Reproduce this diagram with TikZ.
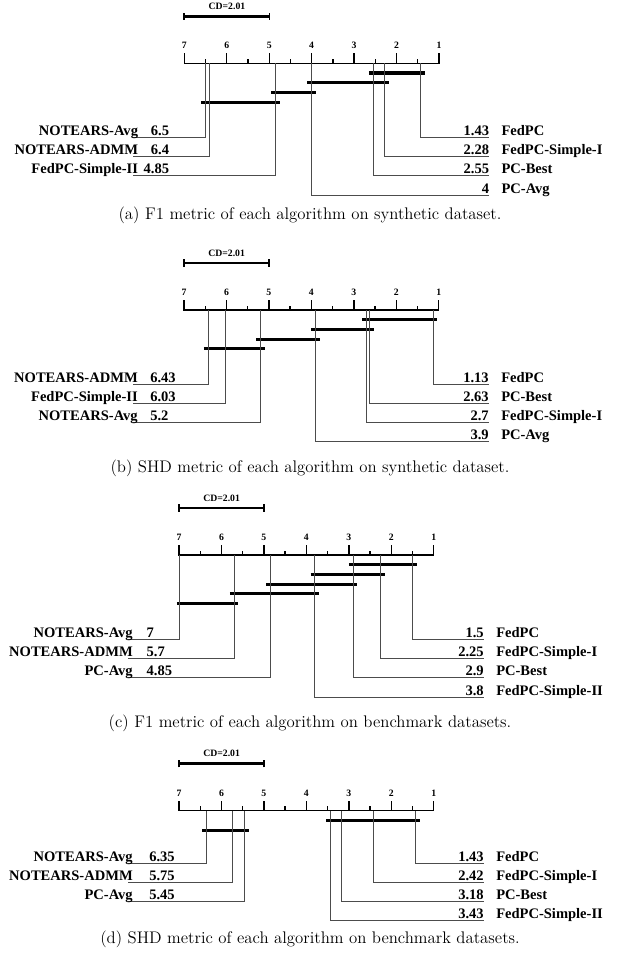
\documentclass[tikz,border=0pt]{standalone}
\usepackage{fontspec}
\newfontfamily\labfont{Liberation Serif}
\usetikzlibrary{calc}

% one unit = one pixel of the final figure, y grows downwards
\tikzset{
  axisline/.style={line width=0.95pt, line cap=rect},
  majortick/.style={line width=1.05pt},
  minortick/.style={line width=0.95pt},
  cdbar/.style={line width=1.9pt},
  cdend/.style={line width=1.3pt},
  cliquebar/.style={line width=2.3pt},
  drop/.style={line width=0.6pt, draw=black!70},
  ticklabel/.style={inner sep=0pt, font=\labfont\bfseries\fontsize{7.3}{8}\selectfont},
  cdlabel/.style={inner sep=0pt, font=\labfont\bfseries\fontsize{7.3}{8}\selectfont},
  lname/.style={inner sep=0pt, font=\labfont\bfseries\fontsize{10.9}{12}\selectfont},
  lval/.style={inner sep=0pt, font=\labfont\bfseries\fontsize{10.9}{12}\selectfont},
  capt/.style={inner sep=0pt, anchor=base, font=\fontsize{12.6}{14}\selectfont},
}

\def\uu{42.45}

% rank axis, ticks and critical-difference bar of one panel
\newcommand\cdframe[1]{%
  \coordinate (#1-a7) at (\xs,\ay);
  \coordinate (#1-a1) at ({\xs+6*\uu},\ay);
  \draw[axisline] (#1-a7) -- (#1-a1);
  \foreach \r in {1,...,7} {
    \draw[majortick] ({\xs+(7-\r)*\uu},\ay) -- ++(0,-10);
    \node[ticklabel] (#1-t\r) at ({\xs+(7-\r)*\uu},{\ay-17.8}) {\r};
  }
  \foreach \r in {1.5,2.5,...,6.5}
    \draw[minortick] ({\xs+(7-\r)*\uu},\ay) -- ++(0,-4.5);
  \coordinate (#1-cd0) at (\xs,{\ay-47});
  \coordinate (#1-cd1) at ({\xs+2.01*\uu},{\ay-47});
  \draw[cdbar] (#1-cd0) -- (#1-cd1);
  \draw[cdend] ($(#1-cd0)+(0,3.6)$) -- ($(#1-cd0)+(0,-3.6)$);
  \draw[cdend] ($(#1-cd1)+(0,3.6)$) -- ($(#1-cd1)+(0,-3.6)$);
  \node[cdlabel] (#1-cd) at ({\xs+1.005*\uu},{\ay-57}) {CD=2.01};
}

% clique bar: #1 name, #2 row, #3 from rank, #4 to rank
\newcommand\clique[4]{%
  \coordinate (#1-s) at ({\xs+(7-#3)*\uu},{\ay+9.7*#2});
  \coordinate (#1-e) at ({\xs+(7-#4)*\uu},{\ay+9.7*#2});
  \draw[cliquebar] (#1-s) -- (#1-e);
}

% method on the left: #1 name, #2 rank, #3 line y, #4 label, #5 value
\newcommand\lentry[5]{%
  \coordinate (#1-r) at ({\xs+(7-#2)*\uu},\ay);
  \coordinate (#1-e) at ({\xs-51},#3);
  \draw[drop] (#1-r) |- (#1-e);
  \node[lname, anchor=base east] (#1-n) at ({\xs-46},{#3-2}) {#4};
  \node[lval, anchor=\valanchor] (#1-v) at ({\xs-51+\valoff},{#3-2}) {#5};
}

% method on the right: #1 name, #2 rank, #3 line y, #4 label, #5 value
\newcommand\rentry[5]{%
  \coordinate (#1-r) at ({\xs+(7-#2)*\uu},\ay);
  \coordinate (#1-e) at ({\xs+305},#3);
  \draw[drop] (#1-r) |- (#1-e);
  \node[lval, anchor=base east] (#1-v) at ({\xs+305},{#3-1.8}) {#5};
  \node[lname, anchor=base west] (#1-n) at ({\xs+317},{#3-1.8}) {#4};
}

\begin{document}
\begin{tikzpicture}[x=0.75pt, y=-0.75pt]
\useasboundingbox (0,0) rectangle (621,965);

%% (a) F1, synthetic
\def\xs{184.3}\def\ay{63.3}\def\valanchor{base east}\def\valoff{36}
\cdframe{pa}
\clique{pa-c1}{1}{2.65}{1.33}
\clique{pa-c2}{2}{4.1}{2.18}
\clique{pa-c3}{3}{4.95}{3.9}
\clique{pa-c4}{4}{6.6}{4.75}
\lentry{pa-l1}{6.5}{137.7}{NOTEARS-Avg}{6.5}
\lentry{pa-l2}{6.4}{156.7}{NOTEARS-ADMM}{6.4}
\lentry{pa-l3}{4.85}{175.7}{FedPC-Simple-II}{4.85}
\rentry{pa-r1}{1.43}{137.7}{FedPC}{1.43}
\rentry{pa-r2}{2.28}{156.7}{FedPC-Simple-I}{2.28}
\rentry{pa-r3}{2.55}{175.7}{PC-Best}{2.55}
\rentry{pa-r4}{4}{195}{PC-Avg}{4}
\node[capt] (capa) at (310,219.3) {(a) F1 metric of each algorithm on synthetic dataset.};

%% (b) SHD, synthetic
\def\xs{184}\def\ay{310}\def\valanchor{base west}\def\valoff{17}
\cdframe{pb}
\clique{pb-c1}{1}{2.8}{1.03}
\clique{pb-c2}{2}{4.0}{2.53}
\clique{pb-c3}{3}{5.3}{3.8}
\clique{pb-c4}{4}{6.53}{5.1}
\lentry{pb-l1}{6.43}{384}{NOTEARS-ADMM}{6.43}
\lentry{pb-l2}{6.03}{403.3}{FedPC-Simple-II}{6.03}
\lentry{pb-l3}{5.2}{422.5}{NOTEARS-Avg}{5.2}
\rentry{pb-r1}{1.13}{384}{FedPC}{1.13}
\rentry{pb-r2}{2.63}{403.3}{PC-Best}{2.63}
\rentry{pb-r3}{2.7}{422.5}{FedPC-Simple-I}{2.7}
\rentry{pb-r4}{3.9}{441.7}{PC-Avg}{3.9}
\node[capt] (capb) at (310,472) {(b) SHD metric of each algorithm on synthetic dataset.};

%% (c) F1, benchmark
\def\xs{179}\def\ay{555}\def\valanchor{base west}\def\valoff{18.4}
\cdframe{pc}
\clique{pc-c1}{1}{3.0}{1.4}
\clique{pc-c2}{2}{3.9}{2.15}
\clique{pc-c3}{3}{4.95}{2.8}
\clique{pc-c4}{4}{5.8}{3.7}
\clique{pc-c5}{5}{7.05}{5.6}
\lentry{pc-l1}{7}{639.3}{NOTEARS-Avg}{7}
\lentry{pc-l2}{5.7}{658.5}{NOTEARS-ADMM}{5.7}
\lentry{pc-l3}{4.85}{677.7}{PC-Avg}{4.85}
\rentry{pc-r1}{1.5}{639.3}{FedPC}{1.5}
\rentry{pc-r2}{2.25}{658.5}{FedPC-Simple-I}{2.25}
\rentry{pc-r3}{2.9}{677.7}{PC-Best}{2.9}
\rentry{pc-r4}{3.8}{697}{FedPC-Simple-II}{3.8}
\node[capt] (capc) at (310,727.3) {(c) F1 metric of each algorithm on benchmark datasets.};

%% (d) SHD, benchmark
\def\xs{179}\def\ay{810.7}\def\valanchor{base west}\def\valoff{21}
\cdframe{pd}
\clique{pd-c1}{1}{3.53}{1.33}
\clique{pd-c2}{2}{6.45}{5.35}
\lentry{pd-l1}{6.35}{863.3}{NOTEARS-Avg}{6.35}
\lentry{pd-l2}{5.75}{882.3}{NOTEARS-ADMM}{5.75}
\lentry{pd-l3}{5.45}{901.3}{PC-Avg}{5.45}
\rentry{pd-r1}{1.43}{863.3}{FedPC}{1.43}
\rentry{pd-r2}{2.42}{882.3}{FedPC-Simple-I}{2.42}
\rentry{pd-r3}{3.18}{901.3}{PC-Best}{3.18}
\rentry{pd-r4}{3.43}{920.3}{FedPC-Simple-II}{3.43}
\node[capt] (capd) at (310,943.3) {(d) SHD metric of each algorithm on benchmark datasets.};
\end{tikzpicture}
\end{document}
